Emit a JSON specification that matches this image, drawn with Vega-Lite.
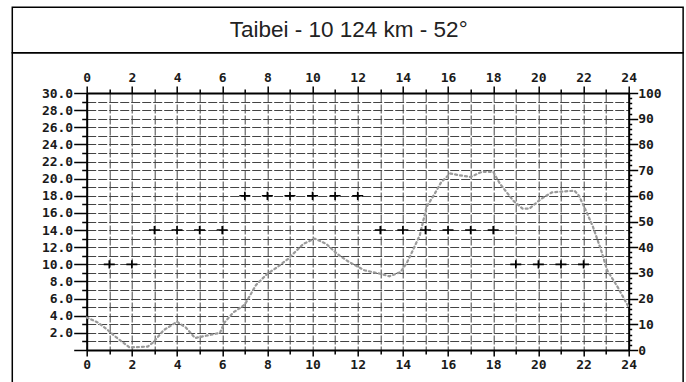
{
  "$schema": "https://vega.github.io/schema/vega-lite/v6.json",
  "width": 542,
  "height": 257,
  "autosize": {"type": "none"},
  "padding": {"left": 86.7, "top": 93, "right": 57.3, "bottom": 32},
  "background": "white",
  "title": {
    "text": "Taibei - 10 124 km - 52°",
    "font": "Liberation Sans",
    "fontSize": 22.5,
    "fontWeight": "normal",
    "color": "#222222",
    "anchor": "middle",
    "frame": "group",
    "baseline": "alphabetic",
    "dx": -9,
    "offset": -53
  },
  "config": {
    "view": {"stroke": null},
    "axis": {
      "title": null,
      "labelFont": "DejaVu Sans Mono",
      "labelFontWeight": "bold",
      "labelFontSize": 13,
      "labelColor": "#1a1a1a",
      "labelOverlap": false,
      "labelFlush": false,
      "labelBound": false,
      "domainColor": "black",
      "domainWidth": 2,
      "tickColor": "black",
      "tickWidth": 1.5,
      "gridColor": "#444444",
      "gridWidth": 1,
      "gridDash": [9, 2],
      "gridOpacity": 1
    }
  },
  "datasets": {
    "muf": [
      {"h": 0, "v": 3.8}, {"h": 0.5, "v": 3.2}, {"h": 0.9, "v": 2.4}, {"h": 1.3, "v": 1.5},
      {"h": 1.9, "v": 0.3}, {"h": 2.7, "v": 0.4}, {"h": 2.95, "v": 0.9}, {"h": 3.4, "v": 2.3},
      {"h": 4.0, "v": 3.3}, {"h": 4.4, "v": 2.6}, {"h": 4.8, "v": 1.4}, {"h": 5.9, "v": 2.0},
      {"h": 6.1, "v": 3.2}, {"h": 6.5, "v": 4.4}, {"h": 7.0, "v": 5.3}, {"h": 7.5, "v": 7.6},
      {"h": 8.0, "v": 8.9}, {"h": 8.4, "v": 9.6}, {"h": 8.9, "v": 10.6}, {"h": 9.6, "v": 12.4},
      {"h": 10.1, "v": 13.0}, {"h": 10.6, "v": 12.4}, {"h": 11.1, "v": 11.2}, {"h": 11.6, "v": 10.3},
      {"h": 12.3, "v": 9.3}, {"h": 13.0, "v": 8.9}, {"h": 13.4, "v": 8.6}, {"h": 13.9, "v": 9.1},
      {"h": 14.2, "v": 10.3}, {"h": 14.4, "v": 11.4}, {"h": 14.75, "v": 13.4}, {"h": 15.05, "v": 16.7},
      {"h": 15.4, "v": 18.2}, {"h": 15.7, "v": 19.6}, {"h": 16.1, "v": 20.6}, {"h": 16.5, "v": 20.4},
      {"h": 17.0, "v": 20.2}, {"h": 17.5, "v": 20.8}, {"h": 18.0, "v": 20.8}, {"h": 18.3, "v": 19.4},
      {"h": 18.6, "v": 18.4}, {"h": 18.9, "v": 17.4}, {"h": 19.3, "v": 16.5}, {"h": 19.6, "v": 16.5},
      {"h": 20.1, "v": 17.6}, {"h": 20.6, "v": 18.4}, {"h": 21.6, "v": 18.6}, {"h": 21.8, "v": 18.0},
      {"h": 22.1, "v": 16.3}, {"h": 22.4, "v": 14.5}, {"h": 22.76, "v": 11.8}, {"h": 23.05, "v": 9.3},
      {"h": 23.5, "v": 7.4}, {"h": 24.0, "v": 5.0}
    ],
    "freq": [
      {"h": 1, "f": 10}, {"h": 2, "f": 10},
      {"h": 3, "f": 14}, {"h": 4, "f": 14}, {"h": 5, "f": 14}, {"h": 6, "f": 14},
      {"h": 7, "f": 18}, {"h": 8, "f": 18}, {"h": 9, "f": 18}, {"h": 10, "f": 18}, {"h": 11, "f": 18}, {"h": 12, "f": 18},
      {"h": 13, "f": 14}, {"h": 14, "f": 14}, {"h": 15, "f": 14}, {"h": 16, "f": 14}, {"h": 17, "f": 14}, {"h": 18, "f": 14},
      {"h": 19, "f": 10}, {"h": 20, "f": 10}, {"h": 21, "f": 10}, {"h": 22, "f": 10}
    ]
  },
  "layer": [
    {
      "data": {"values": [{}]},
      "mark": {"type": "rect", "filled": false, "stroke": "black", "strokeWidth": 1.5},
      "encoding": {
        "x": {"datum": -3.295, "type": "quantitative", "scale": {"domain": [0, 24], "nice": false, "zero": false}, "axis": null},
        "x2": {"datum": 26.41},
        "y": {"datum": 40.0, "type": "quantitative", "scale": {"domain": [0, 30], "nice": false}, "axis": null},
        "y2": {"datum": 34.69}
      }
    },
    {
      "data": {"values": [{}]},
      "mark": {"type": "rect", "filled": false, "stroke": "black", "strokeWidth": 1.5},
      "encoding": {
        "x": {"datum": -3.295, "type": "quantitative", "scale": {"domain": [0, 24], "nice": false, "zero": false}, "axis": null},
        "x2": {"datum": 26.41},
        "y": {"datum": 34.69, "type": "quantitative", "scale": {"domain": [0, 30], "nice": false}, "axis": null},
        "y2": {"datum": -5}
      }
    },
    {
      "data": {"name": "muf"},
      "mark": {"type": "line", "color": "#9a9a9a", "strokeWidth": 2.2, "strokeDash": [2, 3], "strokeCap": "round"},
      "encoding": {
        "x": {
          "field": "h", "type": "quantitative",
          "scale": {"domain": [0, 24], "nice": false, "zero": false},
          "axis": {
            "orient": "bottom",
            "values": [0,1,2,3,4,5,6,7,8,9,10,11,12,13,14,15,16,17,18,19,20,21,22,23,24],
            "labelExpr": "datum.value % 2 == 0 ? datum.label : ''",
            "tickSize": {"condition": {"test": "datum.value % 2 == 0", "value": 6}, "value": 4},
            "labelPadding": 2,
            "grid": true
          }
        },
        "y": {
          "field": "v", "type": "quantitative",
          "scale": {"domain": [0, 30], "nice": false},
          "axis": {
            "orient": "left",
            "values": [0,1,2,3,4,5,6,7,8,9,10,11,12,13,14,15,16,17,18,19,20,21,22,23,24,25,26,27,28,29,30],
            "labelExpr": "datum.value % 2 == 0 && datum.value > 0 ? format(datum.value, '.1f') : ''",
            "tickSize": {"condition": {"test": "datum.value % 2 == 0", "value": 13}, "value": 5},
            "labelPadding": 1,
            "grid": true
          }
        }
      }
    },
    {
      "data": {"name": "freq"},
      "mark": {"type": "point", "shape": "M-1,0H1M0,-0.75V0.75", "size": 121, "filled": false, "stroke": "black", "strokeWidth": 1.6, "opacity": 1},
      "encoding": {
        "x": {
          "field": "h", "type": "quantitative",
          "scale": {"domain": [0, 24], "nice": false, "zero": false},
          "axis": {
            "orient": "top",
            "values": [0,1,2,3,4,5,6,7,8,9,10,11,12,13,14,15,16,17,18,19,20,21,22,23,24],
            "labelExpr": "datum.value % 2 == 0 ? datum.label : ''",
            "tickSize": {"condition": {"test": "datum.value % 2 == 0", "value": 7}, "value": 4},
            "labelPadding": 2,
            "grid": false
          }
        },
        "y": {
          "field": "f", "type": "quantitative",
          "scale": {"domain": [0, 30], "nice": false},
          "axis": null
        }
      }
    },
    {
      "data": {"values": [{}]},
      "mark": {"type": "rule", "opacity": 0},
      "encoding": {
        "y": {
          "datum": 0, "type": "quantitative",
          "scale": {"domain": [0, 100], "nice": false},
          "axis": {
            "orient": "right",
            "values": [0,2,4,6,8,10,12,14,16,18,20,22,24,26,28,30,32,34,36,38,40,42,44,46,48,50,52,54,56,58,60,62,64,66,68,70,72,74,76,78,80,82,84,86,88,90,92,94,96,98,100],
            "labelExpr": "datum.value % 10 == 0 ? datum.label : ''",
            "tickSize": {"condition": {"test": "datum.value % 10 == 0", "value": 9}, "value": 3},
            "labelPadding": 0,
            "grid": false
          }
        }
      }
    }
  ],
  "resolve": {
    "scale": {"x": "independent", "y": "independent"},
    "axis": {"x": "independent", "y": "independent"}
  }
}
